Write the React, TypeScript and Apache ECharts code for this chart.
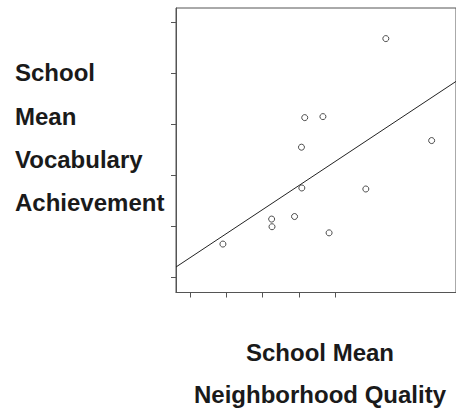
import React, { useEffect, useRef } from "react";
import * as echarts from "echarts";

const neighborhoodQuality = [1.91, 3.25, 3.26, 3.88, 4.08, 4.83, 5.84, 4.16, 4.66, 4.07, 7.65, 6.39];
const vocabularyAchievement = [1.65, 2.14, 1.99, 2.19, 2.75, 1.87, 2.73, 4.13, 4.15, 3.55, 3.68, 5.68];
const fitLineX = [0.62, 8.32];
const fitLineY = [1.2, 4.84];
const xTickValues = [1, 2, 3, 4, 5];
const yTickValues = [1, 2, 3, 4, 5, 6];
const yTitleLines = ["School", "Mean", "Vocabulary", "Achievement"];
const xTitleLines = ["School Mean", "Neighborhood Quality"];

const FONT = "'Liberation Sans', Arial, Helvetica, sans-serif";

export default function App() {
  const ref = useRef<HTMLDivElement>(null);
  useEffect(() => {
    if (!ref.current) return;
    const chart = echarts.init(ref.current, undefined, { renderer: "svg" });
    const points = neighborhoodQuality.map((x, i) => [x, vocabularyAchievement[i]]);
    const fit = fitLineX.map((x, i) => [x, fitLineY[i]]);
    const yTitleY = [72, 116, 159, 202];
    const xTitleY = [352, 394];
    chart.setOption({
      animation: false,
      backgroundColor: "#ffffff",
      grid: {
        left: 176,
        top: 8,
        right: -2,
        bottom: 115.5,
        show: true,
        borderColor: "#555",
        borderWidth: 1,
        backgroundColor: "transparent",
      },
      xAxis: {
        type: "value",
        min: 0.62,
        max: 8.32,
        axisLine: { show: true, onZero: false, lineStyle: { color: "#555", width: 1 } },
        axisTick: { show: true, length: 5, customValues: xTickValues, lineStyle: { color: "#555" } },
        axisLabel: { show: false },
        splitLine: { show: false },
      },
      yAxis: {
        type: "value",
        min: 0.7,
        max: 6.28,
        axisLine: { show: true, onZero: false, lineStyle: { color: "#555", width: 1 } },
        axisTick: { show: true, length: 5, customValues: yTickValues, lineStyle: { color: "#555" } },
        axisLabel: { show: false },
        splitLine: { show: false },
      },
      series: [
        {
          type: "line",
          data: fit,
          symbol: "none",
          clip: true,
          lineStyle: { color: "#222", width: 1 },
          silent: true,
        },
        {
          type: "scatter",
          data: points,
          symbol: "circle",
          symbolSize: 6,
          itemStyle: { color: "#ffffff", borderColor: "#222", borderWidth: 1 },
        },
      ],
      graphic: [
        ...yTitleLines.map((t, i) => ({
          type: "text",
          left: 15,
          top: yTitleY[i] - 12,
          style: {
            text: t,
            fill: "#1a1a1a",
            font: `bold 24px ${FONT}`,
          },
        })),
        ...xTitleLines.map((t, i) => ({
          type: "text",
          x: 320,
          y: xTitleY[i],
          style: {
            text: t,
            fill: "#1a1a1a",
            font: `bold 24px ${FONT}`,
            textAlign: "center",
            textVerticalAlign: "middle",
          },
        })),
      ],
    });
    return () => chart.dispose();
  }, []);
  return (
    <div
      ref={ref}
      style={{ position: "fixed", left: 0, top: 0, width: 456, height: 408 }}
    />
  );
}
